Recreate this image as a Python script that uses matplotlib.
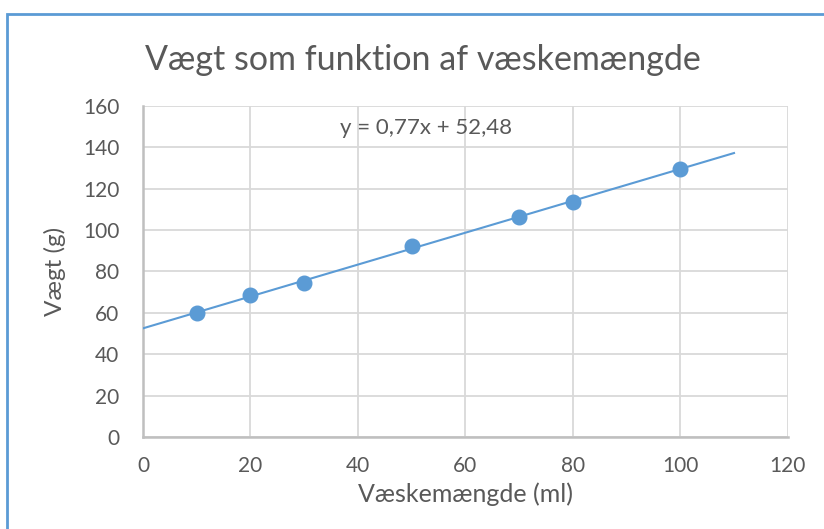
import numpy as np
import matplotlib.pyplot as plt
from matplotlib.patches import Rectangle

# data
maengde = [10, 20, 30, 50, 70, 80, 100]
vaegt = [59.8, 68.6, 74.4, 92.3, 106.2, 113.4, 129.3]
haeldning = 0.77
skaering = 52.48
trend_x = [0, 110]

blue = '#5B9BD5'
grey_text = '#595959'
plt.rcParams['font.family'] = ['Lato', 'DejaVu Sans']

fig = plt.figure(figsize=(8.24, 5.29), dpi=100)
ax = fig.add_axes([0.1735, 0.174, 0.7825, 0.626])

tx = np.array(trend_x)
ax.plot(tx, haeldning * tx + skaering, color=blue, lw=1.5, zorder=3)
ax.plot(maengde, vaegt, 'o', color=blue, markersize=10.5, zorder=4)

ax.set_xlim(0, 120)
ax.set_ylim(0, 160)
ax.set_xticks(range(0, 121, 20))
ax.set_yticks(range(0, 161, 20))
ax.grid(True, color='#D9D9D9', lw=1.3)
ax.set_axisbelow(True)
for s in ['top', 'right']:
    ax.spines[s].set_visible(False)
for s in ['left', 'bottom']:
    ax.spines[s].set_color('#BFBFBF')
    ax.spines[s].set_linewidth(1.8)
ax.tick_params(axis='y', length=0, labelsize=15, colors=grey_text, pad=17)
ax.tick_params(axis='x', length=0, labelsize=15, colors=grey_text, pad=14)

ax.set_xlabel('Væskemængde (ml)', fontsize=18, color=grey_text, labelpad=4)
ax.set_ylabel('Vægt (g)', fontsize=17.5, color=grey_text, labelpad=12)

ax.text(36.7, 149.5, 'y = 0,77x + 52,48', fontsize=16, color=grey_text,
        ha='left', va='center')

fig.text(0.513, 0.886, 'Vægt som funktion af væskemængde', fontsize=24.5,
         color=grey_text, ha='center', va='center')

# chart frame
fig.patches.append(Rectangle((0.008, -0.01), 1.2, 0.984, transform=fig.transFigure,
                             fill=False, edgecolor=blue, lw=2))

fig.savefig('out.png', dpi=100)
